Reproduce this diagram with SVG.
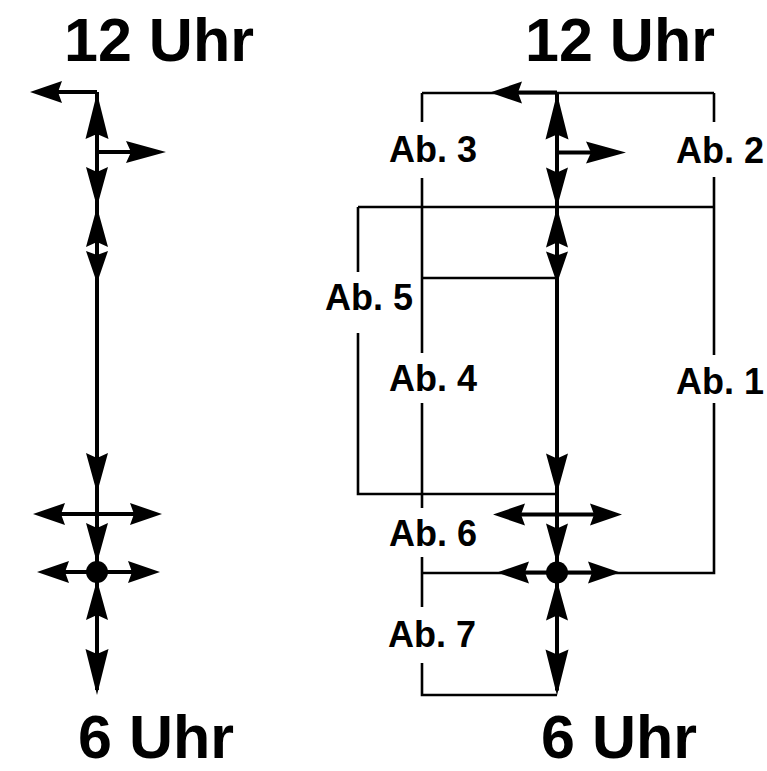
<svg xmlns="http://www.w3.org/2000/svg" xmlns:xlink="http://www.w3.org/1999/xlink" width="767" height="771" viewBox="0 0 767 771">
<style>
.bg{fill:#ffffff}
.main{fill:none;stroke:#000;stroke-width:4;stroke-linecap:butt}
.con{fill:none;stroke:#000;stroke-width:2.6}
.dot{fill:#000}
.ah{fill:#000}
.big{font-family:"Liberation Sans",Arial,sans-serif;font-weight:bold;font-size:61px;fill:#000;text-anchor:middle}
.lbl{font-family:"Liberation Sans",Arial,sans-serif;font-weight:bold;font-size:36px;fill:#000;text-anchor:middle}
</style>
<defs>
<path id="ahS" class="ah" d="M0,0 L-32,-11 L-28,0 L-32,11 Z"/>
<path id="ahM" class="ah" d="M0,0 L-40,-11 L-35,0 L-40,11 Z"/>
<path id="ahL" class="ah" d="M0,0 L-46,-11.5 L-41,0 L-46,11.5 Z"/>
<g id="clock">
<path class="main" d="M97,92 V690 M97,92 H40 M97,152 H150 M40,514 H155 M44,572 H152"/>
<circle class="dot" cx="97" cy="572" r="11"/>
<use xlink:href="#ahS" transform="translate(30,92) rotate(180)"/>
<use xlink:href="#ahL" transform="translate(97,93) rotate(-90)"/>
<use xlink:href="#ahM" transform="translate(166,152)"/>
<use xlink:href="#ahM" transform="translate(97,207) rotate(90)"/>
<use xlink:href="#ahM" transform="translate(97,207) rotate(-90)"/>
<use xlink:href="#ahS" transform="translate(97,283) rotate(90)"/>
<use xlink:href="#ahM" transform="translate(97,493) rotate(90)"/>
<use xlink:href="#ahS" transform="translate(33,514) rotate(180)"/>
<use xlink:href="#ahS" transform="translate(162,514)"/>
<use xlink:href="#ahM" transform="translate(97,563) rotate(90)"/>
<use xlink:href="#ahS" transform="translate(37,572) rotate(180)"/>
<use xlink:href="#ahS" transform="translate(160,572)"/>
<use xlink:href="#ahM" transform="translate(97,580) rotate(-90)"/>
<use xlink:href="#ahL" transform="translate(97,695) rotate(90)"/>
</g>
</defs>
<rect class="bg" x="0" y="0" width="767" height="771"/>
<g id="connectors">
<path class="con" d="M422,93 H714 M422,93 V122 M422,178 V353 M422,403 V508 M422,557 V607 M422,663 V695 H557"/>
<path class="con" d="M714,93 V122 M714,177 V355 M714,403 V573 H422"/>
<path class="con" d="M358,207 H714 M358,207 V272 M358,333 V494 H557 M422,278 H557"/>
</g>
<g id="fig-left">
<use xlink:href="#clock"/>
</g>
<g id="fig-right">
<use xlink:href="#clock" transform="translate(460,0.5)"/>
</g>
<g id="title-left-12"><text class="big" x="159" y="61">12 Uhr</text></g>
<g id="title-right-12"><text class="big" x="620" y="61">12 Uhr</text></g>
<g id="title-left-6"><text class="big" x="156" y="758">6 Uhr</text></g>
<g id="title-right-6"><text class="big" x="619" y="758">6 Uhr</text></g>
<g id="label-ab1"><text class="lbl" x="720" y="394">Ab. 1</text></g>
<g id="label-ab2"><text class="lbl" x="720" y="163">Ab. 2</text></g>
<g id="label-ab3"><text class="lbl" x="433" y="162">Ab. 3</text></g>
<g id="label-ab4"><text class="lbl" x="433" y="391">Ab. 4</text></g>
<g id="label-ab5"><text class="lbl" x="369" y="310">Ab. 5</text></g>
<g id="label-ab6"><text class="lbl" x="433" y="546">Ab. 6</text></g>
<g id="label-ab7"><text class="lbl" x="432" y="647">Ab. 7</text></g>
</svg>
